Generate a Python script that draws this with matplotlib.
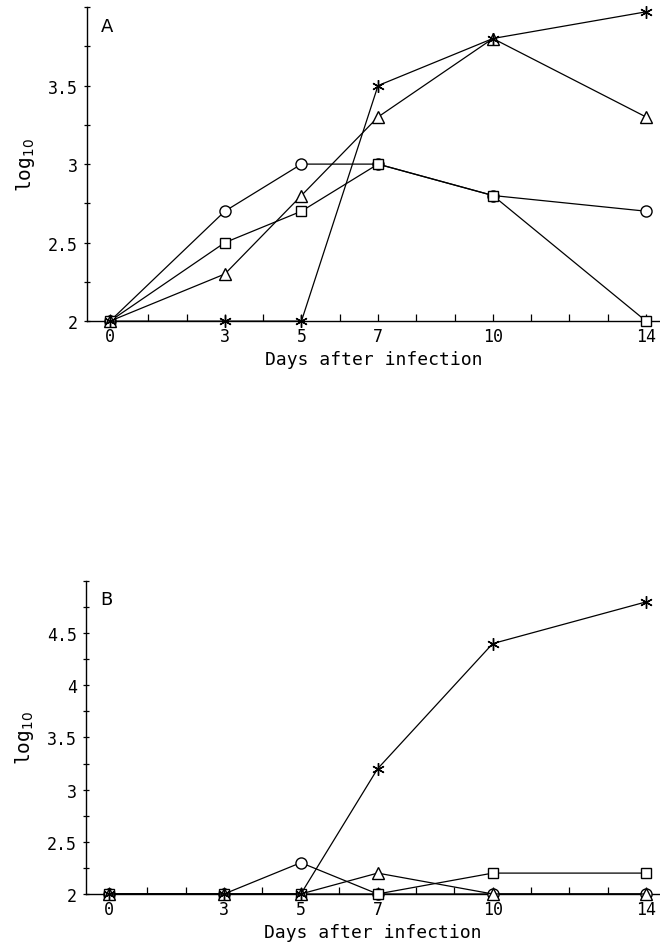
import numpy as np
import matplotlib
matplotlib.use("Agg")
import matplotlib.pyplot as plt
from matplotlib.ticker import MultipleLocator, FixedLocator

days = [0, 3, 5, 7, 10, 14]
day_labels = ["0", "3", "5", "7", "10", "14"]

# panel A
a_circle = [2.0, 2.7, 3.0, 3.0, 2.8, 2.7]
a_square = [2.0, 2.5, 2.7, 3.0, 2.8, 2.0]
a_triangle = [2.0, 2.3, 2.8, 3.3, 3.8, 3.3]
a_star = [2.0, 2.0, 2.0, 3.5, 3.8, 3.97]

# panel B
b_circle = [2.0, 2.0, 2.3, 2.0, 2.0, 2.0]
b_square = [2.0, 2.0, 2.0, 2.0, 2.2, 2.2]
b_triangle = [2.0, 2.0, 2.0, 2.2, 2.0, 2.0]
b_star = [2.0, 2.0, 2.0, 3.2, 4.4, 4.8]

a_yticks = [2, 2.5, 3, 3.5]
a_ylabels = ["2", "2.5", "3", "3.5"]
b_yticks = [2, 2.5, 3, 3.5, 4, 4.5]
b_ylabels = ["2", "2.5", "3", "3.5", "4", "4.5"]

FONT = "DejaVu Sans Mono"
plt.rcParams['font.family'] = FONT

fig = plt.figure(figsize=(6.6, 9.53), dpi=100)


def panel(rect, series, ylim, yticks, ylabels, letter):
    ax = fig.add_axes(rect)
    for vals, mk, ms in series:
        ax.plot(days, vals, color='black', lw=0.9, marker=mk, ms=ms,
                mfc='white' if mk != (6, 2, 0) else 'black', mec='black',
                mew=1.0, clip_on=False, zorder=3)
    ax.set_xlim(-0.6, 14.36)
    ax.set_ylim(*ylim)
    ax.spines['top'].set_visible(False)
    ax.spines['right'].set_visible(False)
    ax.spines['left'].set_linewidth(1.0)
    ax.spines['bottom'].set_linewidth(1.0)
    ax.xaxis.set_major_locator(FixedLocator(days))
    ax.set_xticklabels(day_labels, fontsize=12)
    ax.xaxis.set_minor_locator(MultipleLocator(1))
    ax.yaxis.set_major_locator(FixedLocator(yticks))
    ax.set_yticklabels(ylabels, fontsize=12)
    ax.yaxis.set_minor_locator(MultipleLocator(0.25))
    ax.tick_params(axis='both', which='both', direction='in', length=5,
                   width=0.9, pad=4)
    ax.tick_params(axis='y', which='both', direction='inout', length=5)
    ax.set_xlabel("Days after infection", fontsize=13, labelpad=4)
    ax.set_ylabel("log$_{10}$", fontsize=14, labelpad=8)
    ax.text(0.025, 0.97, letter, transform=ax.transAxes, fontsize=13,
            family="DejaVu Sans", va='top', ha='left')
    return ax


star = (6, 2, 0)
panel([0.1318, 0.662, 0.868, 0.3295],
      [(a_circle, 'o', 8), (a_square, 's', 7), (a_triangle, '^', 9), (a_star, star, 9)],
      (2, 4.0), a_yticks, a_ylabels, "A")
panel([0.1303, 0.0609, 0.8697, 0.3284],
      [(b_circle, 'o', 8), (b_square, 's', 7), (b_triangle, '^', 9), (b_star, star, 9)],
      (2, 5.0), b_yticks, b_ylabels, "B")

fig.savefig("out.png", dpi=100)
